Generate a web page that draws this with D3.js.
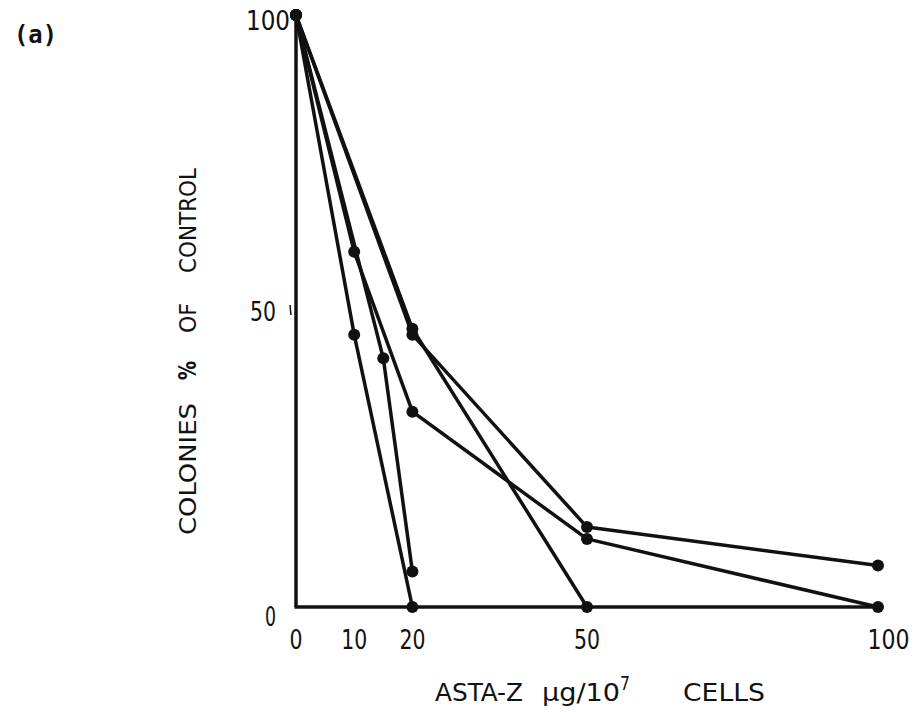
<!DOCTYPE html>
<html>
<head>
<meta charset="utf-8">
<script src="https://cdn.jsdelivr.net/npm/d3@7"></script>
<style>
  html, body { margin: 0; padding: 0; background: #fff; }
  svg { display: block; }
  text { font-family: "DejaVu Sans Condensed", "DejaVu Sans", sans-serif; fill: #111; }
</style>
</head>
<body>
<svg id="chart" width="916" height="712"></svg>
<script>
// Colony survival (% of control) against ASTA-Z dose, one series per experiment
const doseTicks = [0, 10, 20, 50, 100];
const yTicks = [0, 50, 100];
const seriesA = [[0, 100], [10, 46], [20, 0]];
const seriesB = [[0, 100], [15, 42], [20, 6]];
const seriesC = [[0, 100], [10, 60], [20, 33], [50, 11.5], [100, 0]];
const seriesD = [[0, 100], [20, 47], [50, 0]];
const seriesE = [[0, 100], [20, 46], [50, 13.5], [100, 7]];
const allSeries = [seriesA, seriesB, seriesC, seriesD, seriesE];

const svg = d3.select("#chart");
const x = d3.scaleLinear().domain([0, 100]).range([296, 878]);
const y = d3.scaleLinear().domain([0, 100]).range([607, 15]);
const ink = "#111";

// condensed text helper: fixes the drawn width of a label
function fit(sel, w, mode) {
  return sel.attr("textLength", w).attr("lengthAdjust", mode || "spacingAndGlyphs");
}

// panel tag
fit(svg.append("text").attr("x", 14).attr("y", 43)
  .style("font-family", "'DejaVu Sans Mono', 'Liberation Mono', monospace")
  .style("font-weight", "bold").style("font-size", "25px").text("(a)"), 43);

// axes
svg.append("line").attr("x1", x(0)).attr("x2", x(0)).attr("y1", y(100)).attr("y2", y(0))
  .attr("stroke", ink).attr("stroke-width", 3.5);
svg.append("line").attr("x1", x(0) - 1.5).attr("x2", x(100)).attr("y1", y(0)).attr("y2", y(0))
  .attr("stroke", ink).attr("stroke-width", 3.5);
// small tick beside the 50 mark
svg.append("line").attr("x1", x(0) - 6).attr("x2", x(0) - 5).attr("y1", y(50) - 6).attr("y2", y(50) + 4)
  .attr("stroke", ink).attr("stroke-width", 1.5);

// y tick labels: right edge and width of each
const yLab = { 0: [276, 11], 50: [276, 26], 100: [290, 44] };
svg.selectAll("text.ytick").data(yTicks).join("text").attr("class", "ytick")
  .attr("x", d => yLab[d][0] - yLab[d][1])
  .attr("y", d => d === 0 ? y(d) + 19 : (d === 100 ? y(d) + 15 : y(d) + 10))
  .style("font-size", "27px")
  .attr("textLength", d => yLab[d][1]).attr("lengthAdjust", "spacingAndGlyphs")
  .text(d => d);

// x tick labels
svg.selectAll("text.xtick").data(doseTicks).join("text").attr("class", "xtick")
  .attr("x", d => x(d) + (d === 100 ? 11 : 0) - (String(d).length * 13) / 2 - (d === 100 ? 2 : 0))
  .attr("y", 649)
  .style("font-size", "27px")
  .attr("textLength", d => d === 100 ? 42 : String(d).length * 13)
  .attr("lengthAdjust", "spacingAndGlyphs")
  .text(d => d);

// axis titles
const xt = svg.append("text").attr("x", 435).attr("y", 701)
  .style("font-size", "25px").attr("xml:space", "preserve");
fit(xt.append("tspan").attr("x", 435), 88).text("ASTA-Z");
fit(xt.append("tspan").attr("x", 542), 78).text("\u00b5g/10");
fit(xt.append("tspan").attr("dy", -11).style("font-size", "20px"), 10).text("7");
fit(xt.append("tspan").attr("x", 683).attr("dy", 11), 82).text("CELLS");

const yt = svg.append("g").attr("transform", "translate(196,0) rotate(-90)");
const ytWords = [["COLONIES", 403, 535], ["%", 361, 380], ["OF", 303, 333], ["CONTROL", 168, 273]];
ytWords.forEach(([w, top, bottom]) => {
  fit(yt.append("text").attr("x", -bottom).attr("y", 0)
    .style("font-size", w === "%" ? "24px" : "23px")
    .style("font-weight", w === "%" ? "bold" : "normal").text(w), bottom - top);
});

// lines and points
const line = d3.line().x(d => x(d[0])).y(d => y(d[1]));
svg.selectAll("path.series").data(allSeries).join("path").attr("class", "series")
  .attr("d", line).attr("fill", "none").attr("stroke", ink)
  .attr("stroke-width", 3.5).attr("stroke-linejoin", "round");

svg.selectAll("g.pts").data(allSeries).join("g").attr("class", "pts")
  .selectAll("circle").data(d => d).join("circle")
  .attr("cx", d => x(d[0])).attr("cy", d => y(d[1])).attr("r", 6).attr("fill", ink);
</script>
</body>
</html>
